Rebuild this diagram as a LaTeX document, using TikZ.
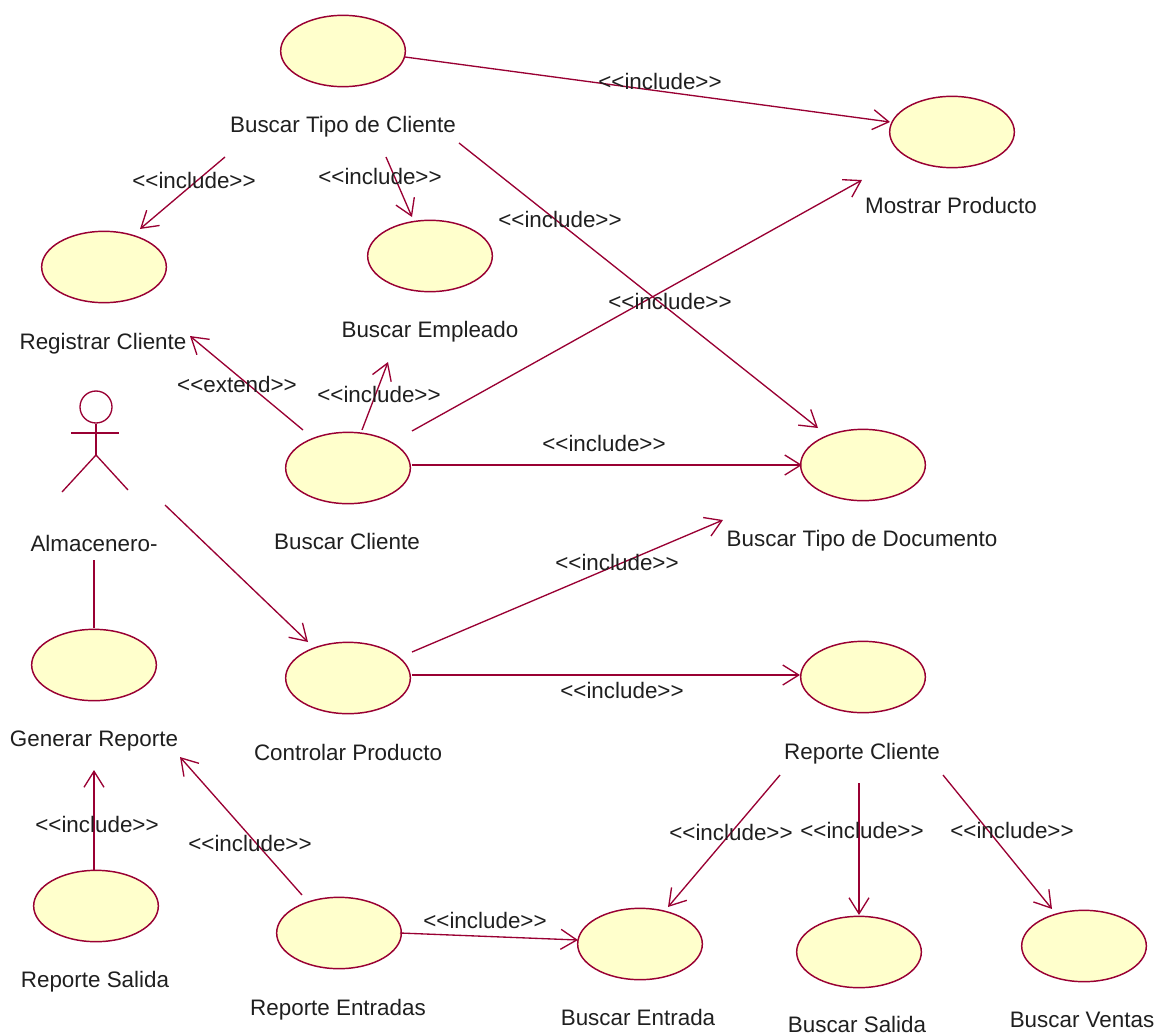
\documentclass[tikz,border=0pt]{standalone}
\usepackage{fontspec}
\setmainfont{Liberation Sans}
\usetikzlibrary{arrows.meta,shapes.geometric}
\definecolor{umlline}{HTML}{990033}
\definecolor{umlfill}{HTML}{FFFFCC}
\newcommand{\incl}{<{}<include>{}>}
\newcommand{\extd}{<{}<extend>{}>}
\tikzset{
  usecase/.style={ellipse,draw=umlline,fill=umlfill,line width=1.1pt,minimum width=93.5pt,minimum height=53.5pt,inner sep=0pt},
  txt/.style={font=\fontsize{16.8pt}{19pt}\selectfont,text=black!88,inner sep=0pt,anchor=center,text height=13pt,text depth=1pt},
  conn/.style={draw=umlline,line width=1pt},
  dep/.style={conn,-{Straight Barb[length=12pt,width=15pt,line width=1pt]}},
}
\begin{document}
\begin{tikzpicture}[x=0.75pt,y=-0.75pt]
\useasboundingbox (0,0) rectangle (1159,1035);
% use cases
\node[usecase] (tipo) at (343,51) {};
\node[usecase] (mos) at (952,132) {};
\node[usecase] (reg) at (104,267) {};
\node[usecase] (emp) at (430,256) {};
\node[usecase] (cli) at (348,468) {};
\node[usecase] (doc) at (863,465) {};
\node[usecase] (gen) at (94,665) {};
\node[usecase] (ctl) at (348,678) {};
\node[usecase] (rep) at (863,677) {};
\node[usecase] (sal) at (96,906) {};
\node[usecase] (ent) at (339,933) {};
\node[usecase] (be) at (640,944) {};
\node[usecase] (bs) at (859,952) {};
\node[usecase] (bv) at (1084,946) {};
% names
\node[txt] (tipoL) at (343,124) {Buscar Tipo de Cliente};
\node[txt] (mosL) at (951,205) {Mostrar Producto};
\node[txt] (regL) at (103,341) {Registrar Cliente};
\node[txt] (empL) at (430,329) {Buscar Empleado};
\node[txt] (almL) at (94,543) {Almacenero-};
\node[txt] (cliL) at (347,541) {Buscar Cliente};
\node[txt] (docL) at (862,538) {Buscar Tipo de Documento};
\node[txt] (genL) at (94,738) {Generar Reporte};
\node[txt] (ctlL) at (348,752) {Controlar Producto};
\node[txt] (repL) at (862,751) {Reporte Cliente};
\node[txt] (salL) at (95,979) {Reporte Salida};
\node[txt] (entL) at (338,1007) {Reporte Entradas};
\node[txt] (beL) at (638,1017) {Buscar Entrada};
\node[txt] (bsL) at (857,1024) {Buscar Salida};
\node[txt] (bvL) at (1082,1019) {Buscar Ventas};
% actor
\node[circle,draw=umlline,line width=1pt,minimum size=24pt,inner sep=0pt] (actor) at (96,407) {};
\draw[conn] (actor.south) -- ([shift={(0,48)}]actor.center) coordinate (hip);
\draw[conn] ([shift={(-25,26)}]actor.center) -- ([shift={(23,26)}]actor.center);
\draw[conn] ([shift={(-34,85)}]actor.center) -- (hip) -- ([shift={(32,83)}]actor.center);
% connectors
\draw[dep] ([shift={(62,6)}]tipo.center) -- ([shift={(-62,-10)}]mos.center);
\draw[dep] ([shift={(116,19)}]tipoL.center) -- ([shift={(-45,-37)}]doc.center);
\draw[dep] ([shift={(-118,33)}]tipoL.center) -- ([shift={(36,-38)}]reg.center);
\draw[dep] ([shift={(43,33)}]tipoL.center) -- ([shift={(-18,-39)}]emp.center);
\draw[dep] ([shift={(-45,-38)}]cli.center) -- ([shift={(87,-5)}]regL.center);
\draw[dep] ([shift={(14,-38)}]cli.center) -- ([shift={(-42,33)}]empL.center);
\draw[dep] ([shift={(64,-37)}]cli.center) -- ([shift={(-89,-25)}]mosL.center);
\draw[dep] ([shift={(64,-3)}]cli.center) -- ([shift={(-61,0)}]doc.center);
\draw[dep] ([shift={(69,98)}]actor.center) -- ([shift={(-40,-36)}]ctl.center);
\draw[dep] ([shift={(64,-26)}]ctl.center) -- ([shift={(-139,-18)}]docL.center);
\draw[dep] ([shift={(64,-3)}]ctl.center) -- ([shift={(-63,-2)}]rep.center);
\draw[conn] ([shift={(0,17)}]almL.center) -- ([shift={(0,-37)}]gen.center);
\draw[dep] ([shift={(-2,-36)}]sal.center) -- ([shift={(0,32)}]genL.center);
\draw[dep] ([shift={(-37,-38)}]ent.center) -- ([shift={(86,19)}]genL.center);
\draw[dep] ([shift={(61,0)}]ent.center) -- ([shift={(-62,-4)}]be.center);
\draw[dep] ([shift={(-82,24)}]repL.center) -- ([shift={(28,-37)}]be.center);
\draw[dep] ([shift={(-3,32)}]repL.center) -- ([shift={(0,-37)}]bs.center);
\draw[dep] ([shift={(81,24)}]repL.center) -- ([shift={(-32,-37)}]bv.center);
% stereotypes
\node[txt] (s1) at (660,81) {\incl};
\node[txt] (s2) at (194,180) {\incl};
\node[txt] (s3) at (380,176) {\incl};
\node[txt] (s4) at (560,219) {\incl};
\node[txt] (s5) at (670,301) {\incl};
\node[txt] (s6) at (237,384) {\extd};
\node[txt] (s7) at (379,394) {\incl};
\node[txt] (s8) at (604,443) {\incl};
\node[txt] (s9) at (617,562) {\incl};
\node[txt] (s10) at (622,690) {\incl};
\node[txt] (s11) at (97,824) {\incl};
\node[txt] (s12) at (250,843) {\incl};
\node[txt] (s13) at (485,920) {\incl};
\node[txt] (s14) at (731,832) {\incl};
\node[txt] (s15) at (862,830) {\incl};
\node[txt] (s16) at (1012,830) {\incl};
\end{tikzpicture}
\end{document}
